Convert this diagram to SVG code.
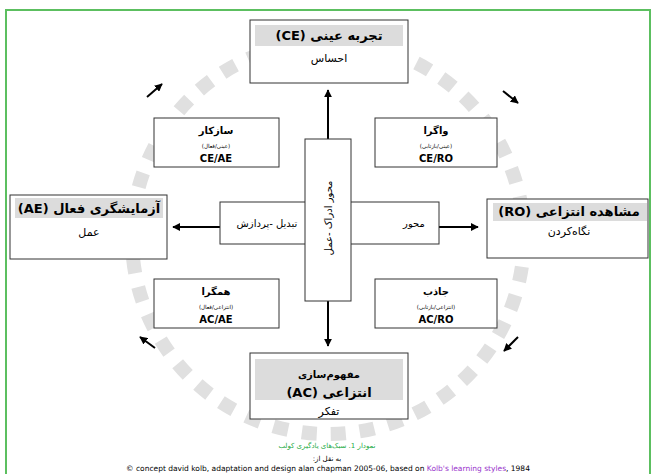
<svg xmlns="http://www.w3.org/2000/svg" width="656" height="474" viewBox="0 0 656 474">
<style>
.box{fill:#fff;stroke:#333;stroke-width:1}
.hdr{fill:#dcdcdc}
.t{font-family:"DejaVu Sans",sans-serif;fill:#000;text-anchor:middle}
.r{direction:rtl;unicode-bidi:embed}
.big{font-size:13px;font-weight:bold}
.mid{font-size:11px}
.sm{font-size:10px;font-weight:bold}
.tiny{font-size:5.5px}
.lat{font-size:10px;font-weight:bold}
.ln{stroke:#000;stroke-width:2;fill:none}
</style>
<defs>
<marker id="ah" viewBox="0 0 10 10" refX="9" refY="5" markerWidth="4" markerHeight="4" orient="auto">
<path d="M0,0 L10,5 L0,10 z" fill="#000"/>
</marker>
</defs>
<rect width="656" height="474" fill="#fff"/>
<g id="frame" stroke="#5cbf60" stroke-width="2" fill="none">
<path d="M6,474 V10 H650 V474"/>
</g>
<circle id="cycle" cx="328" cy="238" r="196" fill="none" stroke="#e0e0e0" stroke-width="14" stroke-dasharray="15 14"/>
<g id="connectors">
<line class="ln" x1="328" y1="139" x2="328" y2="90" marker-end="url(#ah)"/>
<line class="ln" x1="328" y1="301" x2="328" y2="346" marker-end="url(#ah)"/>
<line class="ln" x1="220" y1="227" x2="173" y2="227" marker-end="url(#ah)"/>
<line class="ln" x1="439" y1="227" x2="478" y2="227" marker-end="url(#ah)"/>
<line class="ln" x1="147" y1="97" x2="162" y2="84" marker-end="url(#ah)"/>
<line class="ln" x1="503" y1="91" x2="518" y2="103" marker-end="url(#ah)"/>
<line class="ln" x1="518" y1="337" x2="504" y2="351" marker-end="url(#ah)"/>
<line class="ln" x1="155" y1="348" x2="140" y2="337" marker-end="url(#ah)"/>
</g>
<g id="CE">
<rect class="box" x="250" y="20" width="158" height="63"/>
<rect class="hdr" x="255" y="25" width="148" height="21"/>
<text class="t r big" x="329" y="40">تجربه عینی (CE)</text>
<text class="t r mid" x="329" y="62">احساس</text>
</g>
<g id="AE">
<rect class="box" x="10" y="195" width="157" height="64"/>
<rect class="hdr" x="15" y="198" width="148" height="20"/>
<text class="t r big" x="89" y="213">آزمایشگری فعال (AE)</text>
<text class="t r mid" x="89" y="236">عمل</text>
</g>
<g id="RO">
<rect class="box" x="487" y="199" width="161" height="59"/>
<rect class="hdr" x="493" y="203" width="154" height="18"/>
<text class="t r big" x="569" y="216">مشاهده انتزاعی (RO)</text>
<text class="t r mid" x="569" y="235">نگاه‌کردن</text>
</g>
<g id="AC">
<rect class="box" x="250" y="353" width="158" height="66"/>
<rect class="hdr" x="255" y="359" width="148" height="41"/>
<text class="t r sm" x="329" y="378">مفهوم‌سازی</text>
<text class="t r big" x="329" y="397">انتزاعی (AC)</text>
<text class="t r mid" x="329" y="415">تفکر</text>
</g>
<g id="accommodator">
<rect class="box" x="154" y="118" width="125" height="49"/>
<text class="t r sm" x="216" y="134">سازکار</text>
<text class="t r tiny" x="216" y="148">(عینی/فعال)</text>
<text class="t lat" x="216" y="162">CE/AE</text>
</g>
<g id="diverger">
<rect class="box" x="375" y="118" width="122" height="49"/>
<text class="t r sm" x="436" y="134">واگرا</text>
<text class="t r tiny" x="436" y="148">(عینی/بازتابی)</text>
<text class="t lat" x="436" y="162">CE/RO</text>
</g>
<g id="converger">
<rect class="box" x="154" y="279" width="125" height="49"/>
<text class="t r sm" x="216" y="295">همگرا</text>
<text class="t r tiny" x="216" y="309">(انتزاعی/فعال)</text>
<text class="t lat" x="216" y="323">AC/AE</text>
</g>
<g id="assimilator">
<rect class="box" x="375" y="279" width="122" height="49"/>
<text class="t r sm" x="436" y="295">جاذب</text>
<text class="t r tiny" x="436" y="309">(انتزاعی/بازتابی)</text>
<text class="t lat" x="436" y="323">AC/RO</text>
</g>
<g id="transform-axis">
<rect class="box" x="220" y="202" width="219" height="42"/>
<text class="t" x="267" y="227" style="font-size:10px">تبدیل -پردازش</text>
<text class="t" x="414" y="227" style="font-size:10px">محور</text>
</g>
<g id="perception-axis">
<rect class="box" x="305" y="139" width="46" height="162"/>
<text class="t" style="font-size:10px" transform="translate(332,218) rotate(-90)">محور ادراک -عمل</text>
</g>
<g id="caption" font-family="'DejaVu Sans',sans-serif" text-anchor="middle">
<text x="327" y="448" font-size="7" fill="#22aa44" style="direction:rtl;unicode-bidi:embed">نمودار 1. سبک‌های یادگیری کولب</text>
<text x="327" y="461" font-size="7" fill="#000" style="direction:rtl;unicode-bidi:embed">به نقل از:</text>
<text x="328" y="471" font-size="7.5" fill="#000">© concept david kolb, adaptation and design alan chapman 2005-06, based on <tspan fill="#9933cc">Kolb's learning styles</tspan>, 1984</text>
</g>
</svg>
